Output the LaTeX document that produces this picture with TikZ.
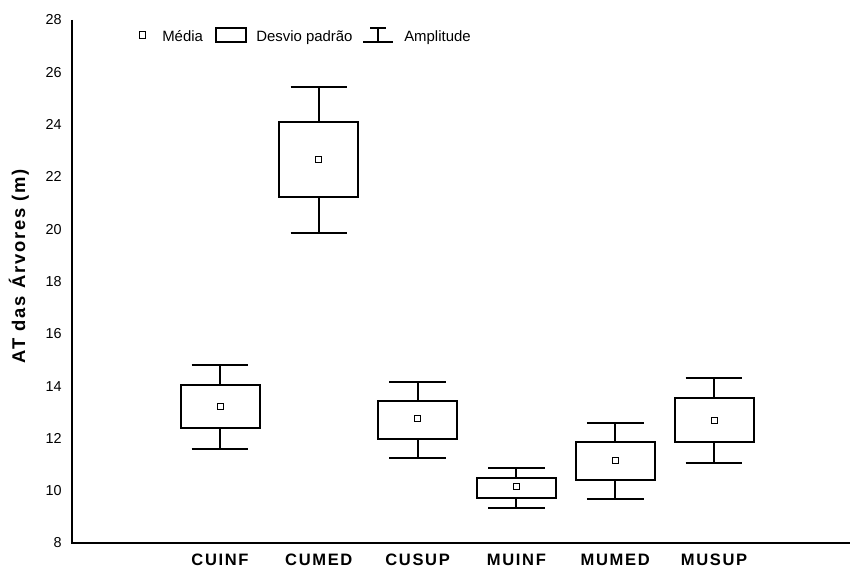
\documentclass[tikz,border=0pt]{standalone}
\usepackage{fontspec}
\setmainfont{Liberation Sans}
\newfontfamily\catfont[LetterSpace=10]{Liberation Sans}
\begin{document}
% x in screen units (0.75pt), y in metres of tree height
\begin{tikzpicture}[x=0.75pt,y=19.6125pt,
  axisline/.style={line width=1.5pt},
  whisk/.style={line width=1.5pt},
  sdbox/.style={line width=1.5pt},
  meanmark/.style={draw,rectangle,minimum size=4.6pt,inner sep=0pt,line width=0.6pt},
  ticklbl/.style={font=\fontsize{10.8pt}{12pt}\selectfont,inner sep=0pt},
  catlbl/.style={font=\catfont\bfseries\fontsize{12.4pt}{14pt}\selectfont,inner sep=0pt},
  leglbl/.style={font=\fontsize{11.2pt}{13pt}\selectfont,inner sep=0pt,anchor=base west}]
\useasboundingbox (0,7.006) rectangle (850,28.765);

% axes
\coordinate (ytop) at (72,28);
\coordinate (orig) at (72,8);
\coordinate (xend) at (850,8);
\draw[axisline] (ytop) -- (orig) -- (xend);

% y tick labels
\foreach \v in {8,10,...,28}
  \node[ticklbl,anchor=east] (t\v) at (62,\v) {\v};

% axis title
\node[font=\catfont\bfseries\fontsize{13.8pt}{16pt}\selectfont,rotate=90,inner sep=0pt]
  (ytitle) at (19,18.59) {AT das Árvores (m)};

% one group: name, x, lower whisker, box bottom, mean, box top, upper whisker
\newcommand\statbox[7]{%
  \draw[whisk] (#2,#3) -- (#2,#4) (#2,#6) -- (#2,#7);
  \draw[whisk] (#2-28.3,#3) -- (#2+28.3,#3) (#2-28.3,#7) -- (#2+28.3,#7);
  \draw[sdbox] (#2-39.5,#4) rectangle (#2+39.5,#6);
  \node[meanmark] (m#1) at (#2,#5) {};
  \node[catlbl] (l#1) at (#2,7.36) {#1};
}

\statbox{CUINF}{220}{11.61}{12.39}{13.21}{14.04}{14.82}
\statbox{CUMED}{318.8}{19.85}{21.23}{22.68}{24.09}{25.45}
\statbox{CUSUP}{417.6}{11.26}{11.97}{12.75}{13.44}{14.15}
\statbox{MUINF}{516.4}{9.35}{9.73}{10.15}{10.50}{10.88}
\statbox{MUMED}{615.2}{9.69}{10.40}{11.15}{11.85}{12.58}
\statbox{MUSUP}{714}{11.05}{11.86}{12.68}{13.53}{14.32}

% legend
\node[meanmark] (kmean) at (142,27.43) {};
\node[leglbl] (kmeant) at (162,27.16) {Média};
\draw[sdbox,line width=1pt] (216,27.16) rectangle (246,27.69);
\node[leglbl] (kboxt) at (256,27.16) {Desvio padrão};
\draw[whisk,line width=1pt] (363,27.16) -- (393,27.16) (378,27.16) -- (378,27.69) (370,27.69) -- (386,27.69);
\node[leglbl] (kwhit) at (404,27.16) {Amplitude};
\end{tikzpicture}
\end{document}
